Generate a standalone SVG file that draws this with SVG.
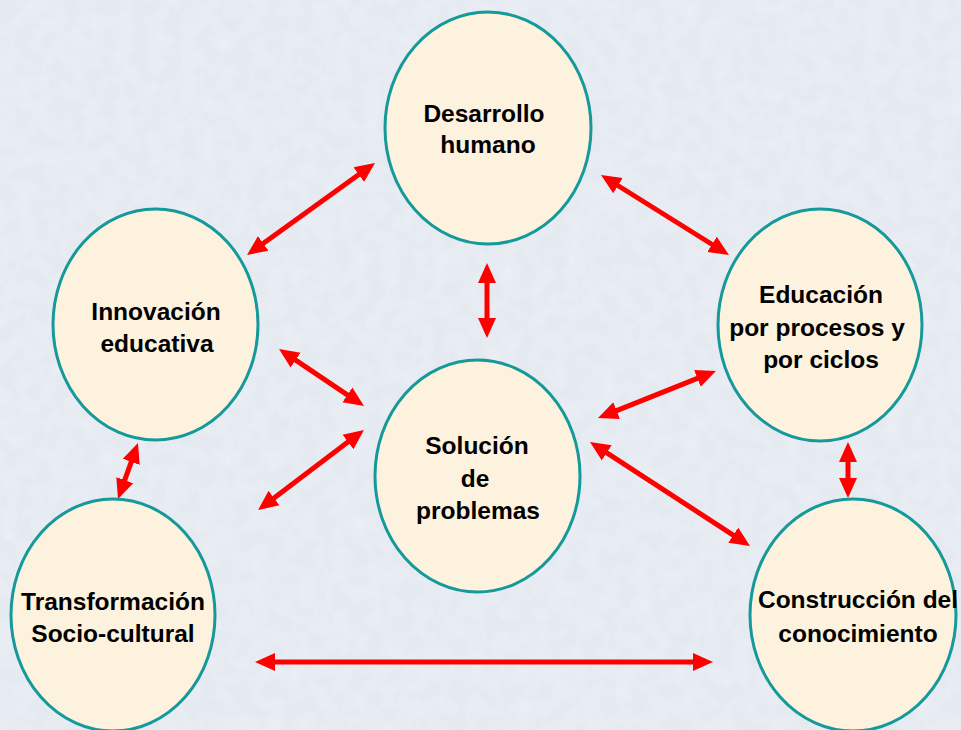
<svg xmlns="http://www.w3.org/2000/svg" width="961" height="730" viewBox="0 0 961 730">
  <defs>
    <filter id="tex" x="0" y="0" width="100%" height="100%">
      <feTurbulence type="fractalNoise" baseFrequency="0.06" numOctaves="3" seed="4" result="n"/>
      <feColorMatrix in="n" type="matrix" values="0 0 0 0 1  0 0 0 0 1  0 0 0 0 1  0 0 0 0.9 -0.3"/>
    </filter>
    <marker id="ah" viewBox="0 -10 20 20" refX="4" refY="0" markerWidth="20" markerHeight="20" markerUnits="userSpaceOnUse" orient="auto-start-reverse">
      <path d="M0,-9 L20,0 L0,9 z" fill="#ff0000"/>
    </marker>
  </defs>
  <style>
    .node ellipse { fill: #fdf2dd; stroke: #15999a; stroke-width: 3; }
    .node text { font-family: "Liberation Sans", Arial, sans-serif; font-weight: bold; font-size: 24.5px; fill: #000; text-anchor: middle; }
    .conn line { stroke: #ff0000; stroke-width: 5; marker-start: url(#ah); marker-end: url(#ah); }
  </style>
  <rect width="961" height="730" fill="#e5eaf1"/>
  <rect width="961" height="730" filter="url(#tex)" opacity="0.5"/>

  <g id="connectors" class="conn">
    <line x1="260.0" y1="245.7" x2="362.0" y2="172.3"/>
    <line x1="487" y1="279" x2="487" y2="322"/>
    <line x1="292.3" y1="357.9" x2="350.7" y2="397.1"/>
    <line x1="351.2" y1="439.6" x2="270.8" y2="500.4"/>
    <line x1="614.6" y1="183.5" x2="715.4" y2="246.5"/>
    <line x1="701.1" y1="376.9" x2="612.9" y2="412.1"/>
    <line x1="603.4" y1="450.7" x2="736.6" y2="537.3"/>
    <line x1="848" y1="458" x2="848" y2="482"/>
    <line x1="132.6" y1="458.1" x2="123.4" y2="483.9"/>
    <line x1="271" y1="662" x2="697" y2="662"/>
  </g>

  <g id="desarrollo" class="node">
    <ellipse cx="488" cy="128" rx="103" ry="116"/>
    <text x="484" y="122">Desarrollo</text>
    <text x="488" y="153">humano</text>
  </g>
  <g id="innovacion" class="node">
    <ellipse cx="155.5" cy="324.5" rx="102.5" ry="115.5"/>
    <text x="156" y="320">Innovación</text>
    <text x="157" y="352">educativa</text>
  </g>
  <g id="educacion" class="node">
    <ellipse cx="820" cy="325" rx="102" ry="116"/>
    <text x="821" y="303">Educación</text>
    <text x="817" y="336">por procesos y</text>
    <text x="821" y="368">por ciclos</text>
  </g>
  <g id="solucion" class="node">
    <ellipse cx="477.5" cy="476" rx="102.5" ry="116"/>
    <text x="477" y="454">Solución</text>
    <text x="475" y="487">de</text>
    <text x="478" y="519">problemas</text>
  </g>
  <g id="transformacion" class="node">
    <ellipse cx="113" cy="615" rx="102" ry="116"/>
    <text x="113" y="610">Transformación</text>
    <text x="113" y="642">Socio-cultural</text>
  </g>
  <g id="construccion" class="node">
    <ellipse cx="853" cy="615" rx="103" ry="116"/>
    <text x="858" y="608">Construcción del</text>
    <text x="858" y="642">conocimiento</text>
  </g>
</svg>
